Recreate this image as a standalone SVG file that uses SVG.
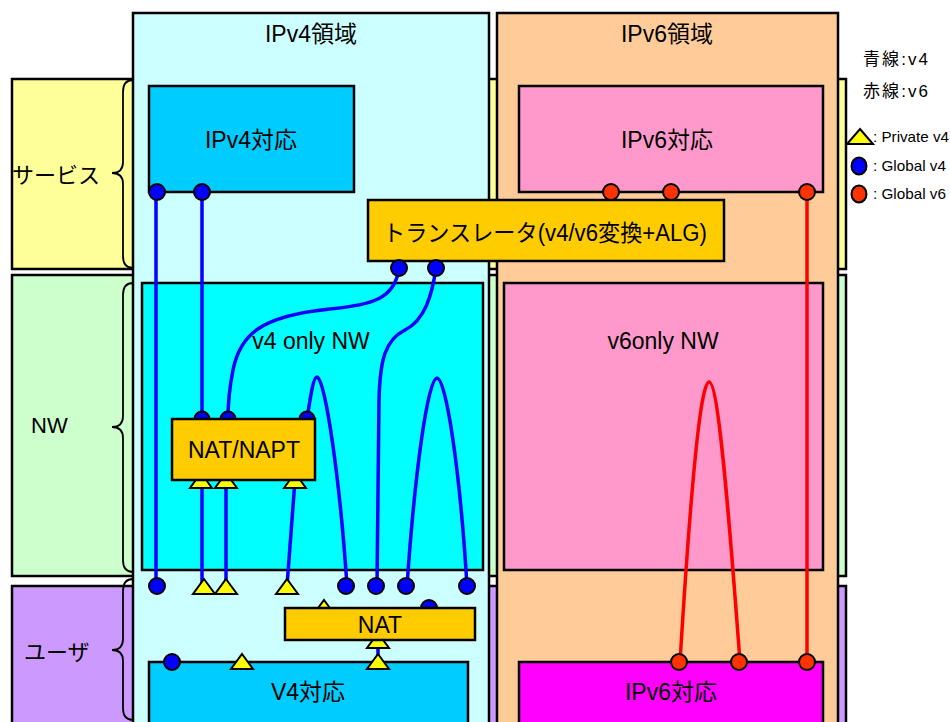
<svg xmlns="http://www.w3.org/2000/svg" xmlns:xlink="http://www.w3.org/1999/xlink" width="950" height="722" viewBox="0 0 950 722">
<style>
text{font-family:"Liberation Sans","Noto Sans CJK JP",sans-serif;fill:#000}
.lbl{font-size:23px;text-anchor:middle}
.side{font-size:22px}
.leg{font-size:17px}
.legs{font-size:15px}
.box{stroke:#000;stroke-width:2.5}
.band{stroke:#000;stroke-width:2.5}
.brace{fill:none;stroke:#000;stroke-width:1.8}
.v4{fill:none;stroke:#0000FF;stroke-width:3.5;stroke-linecap:round}
.v6{fill:none;stroke:#FF0000;stroke-width:3.5;stroke-linecap:round}
.g4{fill:#0000FF;stroke:#000;stroke-width:2}
.g6{fill:#FF3300;stroke:#000;stroke-width:2}
.p4{fill:#FFFF00;stroke:#000;stroke-width:2;stroke-linejoin:miter}
</style>
<defs>
<path id="tri" d="M0,-8 L11,7 L-11,7 Z"/>
</defs>
<rect width="950" height="722" fill="#FFFFFF"/>

<g id="band-service">
<rect class="band" x="12" y="79" width="834" height="190" fill="#FFFF99"/>
<text class="side" x="12" y="183">サービス</text>
<path class="brace" d="M133,80 Q123,80 123,92 L123,162 Q123,173 112,173 Q123,173 123,184 L123,256 Q123,268 133,268"/>
</g>
<g id="band-nw">
<rect class="band" x="12" y="275" width="834" height="301" fill="#CCFFCC"/>
<text class="side" x="31" y="433">NW</text>
<path class="brace" d="M133,283 Q123,283 123,295 L123,416 Q123,427 112,427 Q123,427 123,438 L123,560 Q123,572 133,572"/>
</g>
<g id="band-user">
<rect class="band" x="12" y="586" width="834" height="150" fill="#CC99FF"/>
<text class="side" x="24" y="660">ユーザ</text>
<path class="brace" d="M133,579 Q123,579 123,591 L123,639 Q123,650 112,650 Q123,650 123,661 L123,708 Q123,720 133,720"/>
</g>

<g id="domain-v4">
<rect class="box" x="133" y="13" width="356" height="730" fill="#CCFFFF"/>
<text class="lbl" x="311" y="42">IPv4領域</text>
</g>
<g id="domain-v6">
<rect class="box" x="497" y="13" width="341" height="730" fill="#FFCC99"/>
<text class="lbl" x="667" y="42">IPv6領域</text>
</g>

<g id="svc-v4">
<rect class="box" x="149" y="86" width="205" height="106" fill="#00CCFF"/>
<text class="lbl" x="251" y="148">IPv4対応</text>
</g>
<g id="svc-v6">
<rect class="box" x="519" y="86" width="304" height="106" fill="#FF99CC"/>
<text class="lbl" x="667" y="148">IPv6対応</text>
</g>
<g id="nw-v4">
<rect class="box" x="142" y="283" width="341" height="287" fill="#00FFFF"/>
<text class="lbl" x="311" y="349">v4 only NW</text>
</g>
<g id="nw-v6">
<rect class="box" x="504" y="283" width="319" height="287" fill="#FF99CC"/>
<text class="lbl" x="663" y="349">v6only NW</text>
</g>
<g id="user-v4">
<rect class="box" x="149" y="662" width="319" height="80" fill="#00CCFF"/>
<text class="lbl" x="308" y="700">V4対応</text>
</g>
<g id="user-v6">
<rect class="box" x="519" y="662" width="304" height="80" fill="#FF00FF"/>
<text class="lbl" x="671" y="700">IPv6対応</text>
</g>
<g id="translator">
<rect class="box" x="368" y="200" width="356" height="61" fill="#FFCC00"/>
<text class="lbl" x="545" y="241" textLength="324" lengthAdjust="spacingAndGlyphs">トランスレータ(v4/v6変換+ALG)</text>
</g>

<g id="connectors">
<path class="v4" d="M156,192 L156,586"/>
<path class="v4" d="M202,192 L202,586"/>
<path class="v4" d="M226,480 L226,586"/>
<path class="v4" d="M399,268 C395,300 370,305 330,309 C260,316 240,335 233,370 C230,385 228,400 228,419"/>
<path class="v4" d="M436,268 C432,295 425,320 405,330 C385,340 380,360 379,400 L377,586"/>
<path class="v4" d="M307,419 C310,400 313,377 317,377 C325,377 340,480 347,586"/>
<path class="v4" d="M295,480 L287,586"/>
<path class="v4" d="M407,586 C415,470 428,378 437,378 C446,378 460,470 467,586"/>
<path class="v4" d="M378,640 L378,660"/>
<path class="v6" d="M807,192 L807,662"/>
<path class="v6" d="M680,662 C690,500 700,382 709,382 C718,382 728,500 740,662"/>
</g>

<g id="ports-hidden">
<circle class="g4" cx="202" cy="419" r="7.5"/>
<circle class="g4" cx="228" cy="419" r="7.5"/>
<circle class="g4" cx="307" cy="419" r="7.5"/>
<use href="#tri" class="p4" x="201" y="481"/>
<use href="#tri" class="p4" x="226" y="481"/>
<use href="#tri" class="p4" x="295" y="481"/>
<use href="#tri" class="p4" x="324" y="608"/>
<circle class="g4" cx="429" cy="608" r="8"/>
<use href="#tri" class="p4" x="378" y="641"/>
</g>

<g id="nat-napt">
<rect class="box" x="172" y="419" width="143" height="61" fill="#FFCC00"/>
<text class="lbl" x="244" y="458">NAT/NAPT</text>
</g>
<g id="nat">
<rect class="box" x="285" y="608" width="190" height="32" fill="#FFCC00"/>
<text class="lbl" x="380" y="633">NAT</text>
</g>

<g id="ports">
<circle class="g4" cx="157" cy="192" r="8"/>
<circle class="g4" cx="202" cy="192" r="8"/>
<circle class="g4" cx="399" cy="268" r="8"/>
<circle class="g4" cx="436" cy="268" r="8"/>
<circle class="g6" cx="611" cy="192" r="8"/>
<circle class="g6" cx="671" cy="192" r="8"/>
<circle class="g6" cx="807" cy="192" r="8"/>
<circle class="g4" cx="157" cy="586" r="8"/>
<circle class="g4" cx="346" cy="586" r="8"/>
<circle class="g4" cx="376" cy="586" r="8"/>
<circle class="g4" cx="406" cy="586" r="8"/>
<circle class="g4" cx="467" cy="586" r="8"/>
<use href="#tri" class="p4" x="204" y="587"/>
<use href="#tri" class="p4" x="226" y="587"/>
<use href="#tri" class="p4" x="287" y="587"/>
<circle class="g4" cx="172" cy="662" r="8"/>
<use href="#tri" class="p4" x="242" y="662"/>
<use href="#tri" class="p4" x="378" y="662"/>
<circle class="g6" cx="679" cy="662" r="8"/>
<circle class="g6" cx="739" cy="662" r="8"/>
<circle class="g6" cx="807" cy="662" r="8"/>
</g>

<g id="legend">
<text class="leg" x="863" y="65" textLength="65" lengthAdjust="spacing">青線:v4</text>
<text class="leg" x="863" y="97" textLength="65" lengthAdjust="spacing">赤線:v6</text>
<path class="p4" d="M860,129 L873,144 L847,144 Z"/>
<text class="legs" x="873" y="142" textLength="76" lengthAdjust="spacingAndGlyphs">: Private v4</text>
<ellipse class="g4" cx="859" cy="166" rx="7.5" ry="8.5"/>
<text class="legs" x="873" y="171" textLength="73" lengthAdjust="spacingAndGlyphs">: Global v4</text>
<ellipse class="g6" cx="859" cy="194" rx="7.5" ry="8.5"/>
<text class="legs" x="873" y="199" textLength="73" lengthAdjust="spacingAndGlyphs">: Global v6</text>
</g>
</svg>
